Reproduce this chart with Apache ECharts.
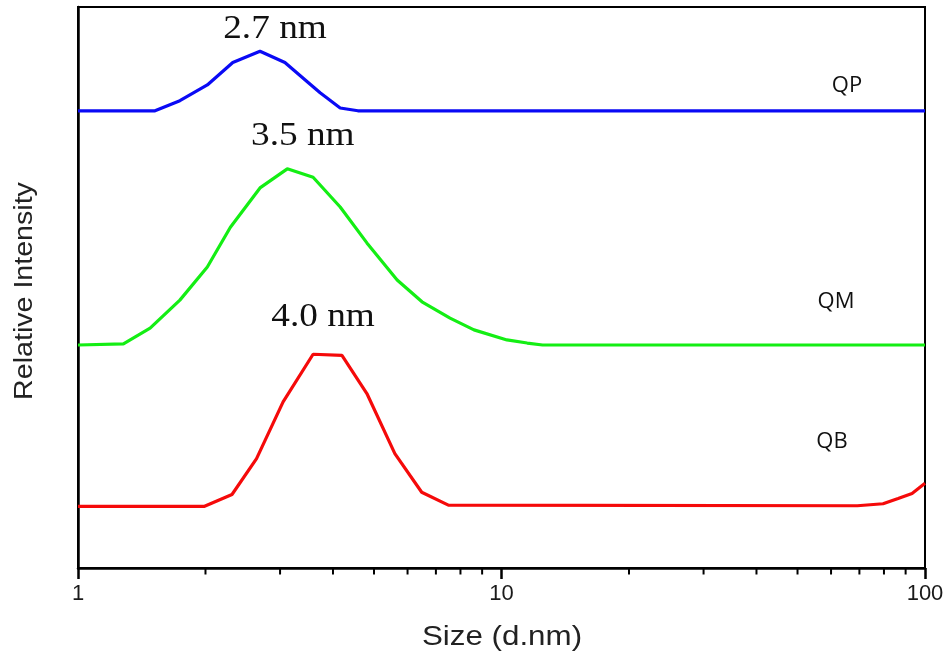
<!DOCTYPE html>
<html>
<head>
<meta charset="utf-8">
<script src="https://cdn.jsdelivr.net/npm/echarts@6/dist/echarts.min.js"></script>
<style>
  html, body { margin: 0; padding: 0; background: #ffffff; }
  #chart { width: 948px; height: 655px; }
</style>
</head>
<body>
<div id="chart"></div>
<script>
// DLS intensity size distributions (size in d.nm, intensity in relative units)
const sizeQP      = [1, 1.52, 1.74, 2.02, 2.32, 2.69, 3.08, 3.44, 3.73, 4.16, 4.58, 100];
const intensityQP = [0, 0,    1.8,  4.6,  8.6,  10.6, 8.6,  5.5,  3.2,  0.5,  0,    0];

const sizeQM      = [1, 1.28, 1.48, 1.74, 2.02, 2.29, 2.69, 3.12, 3.59, 4.16, 4.81, 5.67, 6.49, 7.56, 8.61, 10.3, 11.5, 12.5, 100];
const intensityQM = [0, 0.2,  3.0,  8.0,  13.9, 21.0, 28.0, 31.4, 29.9, 24.6, 18.2, 11.6, 7.7,  4.8,  2.7,  0.9,  0.35, 0,    0];

const sizeQB      = [1, 1.99, 2.31, 2.64, 3.05, 3.59, 4.20, 4.81, 5.60, 6.48, 7.49, 69.2, 79.6, 86.4, 93.2, 100];
const intensityQB = [0, 0,    2.1,  8.5,  18.6, 27.1, 26.9, 20.1, 9.4,  2.5,  0.2,  0.1,  0.45, 1.4,  2.3,  4.1];

// baseline offsets that stack the three traces
const baselineQP = 81.5;
const baselineQM = 39.75;
const baselineQB = 11.0;

const sampleNames = ['QP', 'QM', 'QB'];
const peakLabels  = ['2.7 nm', '3.5 nm', '4.0 nm'];
const minorTickValues = [2, 3, 4, 5, 6, 7, 8, 9, 20, 30, 40, 50, 60, 70, 80, 90];

const traces = [
  { name: 'QP', size: sizeQP, intensity: intensityQP, base: baselineQP, color: '#0a0af5' },
  { name: 'QM', size: sizeQM, intensity: intensityQM, base: baselineQM, color: '#14ee14' },
  { name: 'QB', size: sizeQB, intensity: intensityQB, base: baselineQB, color: '#f50a0a' }
];

const chart = echarts.init(document.getElementById('chart'), null, { renderer: 'canvas' });

const lineSeries = traces.map(t => ({
  name: t.name,
  type: 'line',
  data: t.size.map((s, i) => [s, t.base + t.intensity[i]]),
  showSymbol: false,
  smooth: false,
  lineStyle: { color: t.color, width: 3.2 },
  itemStyle: { color: t.color },
  z: 3
}));

// minor ticks of the logarithmic size axis
const minorTickSeries = {
  type: 'custom',
  coordinateSystem: 'cartesian2d',
  data: minorTickValues.map(v => [v, 0]),
  clip: false,
  silent: true,
  z: 6,
  renderItem: (params, api) => {
    const p = api.coord([api.value(0), 0]);
    return {
      type: 'line',
      shape: { x1: p[0], y1: p[1], x2: p[0], y2: p[1] + 6.5 },
      style: { stroke: '#000', lineWidth: 2 }
    };
  }
};

chart.setOption({
  animation: false,
  backgroundColor: '#ffffff',
  grid: {
    left: 78, right: 23, top: 7, bottom: 87,
    show: true, borderColor: '#000', borderWidth: 2, backgroundColor: 'transparent'
  },
  xAxis: {
    type: 'log',
    logBase: 10,
    min: 1,
    max: 100,
    interval: 1,
    axisLine: { show: true, lineStyle: { color: '#000', width: 2.5 } },
    axisTick: { show: true, inside: false, length: 11, lineStyle: { color: '#000', width: 2.5 } },
    minorTick: { show: false },
    splitLine: { show: false },
    axisLabel: {
      show: true, margin: 15, color: '#1a1a1a',
      fontFamily: '"Liberation Sans", Arial, sans-serif', fontSize: 22,
      formatter: v => String(Math.round(v))
    }
  },
  yAxis: {
    type: 'value',
    min: 0,
    max: 100,
    axisLine: { show: true, lineStyle: { color: '#000', width: 2.5 } },
    axisTick: { show: false },
    axisLabel: { show: false },
    splitLine: { show: false }
  },
  series: lineSeries.concat([minorTickSeries])
});

// text annotations: peak sizes above each curve, sample names at the right, axis titles
const graphics = [];
const peakShift = [[15, -22], [15.5, -33], [10, -36.5]];
traces.forEach((t, k) => {
  let iMax = 0;
  t.intensity.forEach((v, i) => { if (v > t.intensity[iMax]) iMax = i; });
  const p = chart.convertToPixel({ gridIndex: 0 }, [t.size[iMax], t.base + t.intensity[iMax]]);
  graphics.push({
    type: 'text',
    x: p[0] + peakShift[k][0],
    y: p[1] + peakShift[k][1],
    scaleX: 1.13,
    style: {
      text: peakLabels[k],
      fill: '#111',
      font: '33px "Liberation Serif", "Times New Roman", serif',
      align: 'center',
      verticalAlign: 'middle'
    },
    z: 10
  });
});

const namePos = [[847, 86], [836, 302], [832, 442]];
sampleNames.forEach((n, k) => {
  graphics.push({
    type: 'text',
    x: namePos[k][0],
    y: namePos[k][1],
    style: {
      text: n,
      fill: '#111',
      font: '22px "Open Sans", "Noto Sans", sans-serif',
      align: 'center',
      verticalAlign: 'middle'
    },
    z: 10
  });
});

graphics.push({
  type: 'text',
  x: 502,
  y: 638,
  scaleX: 1.16,
  style: {
    text: 'Size (d.nm)',
    fill: '#222',
    font: '27px "Liberation Sans", Arial, sans-serif',
    align: 'center',
    verticalAlign: 'middle'
  },
  z: 10
});

graphics.push({
  type: 'text',
  x: 25,
  y: 291,
  rotation: Math.PI / 2,
  scaleX: 1.1,
  style: {
    text: 'Relative Intensity',
    fill: '#222',
    font: '26px "Liberation Sans", Arial, sans-serif',
    align: 'center',
    verticalAlign: 'middle'
  },
  z: 10
});

chart.setOption({ graphic: graphics });
</script>
</body>
</html>
